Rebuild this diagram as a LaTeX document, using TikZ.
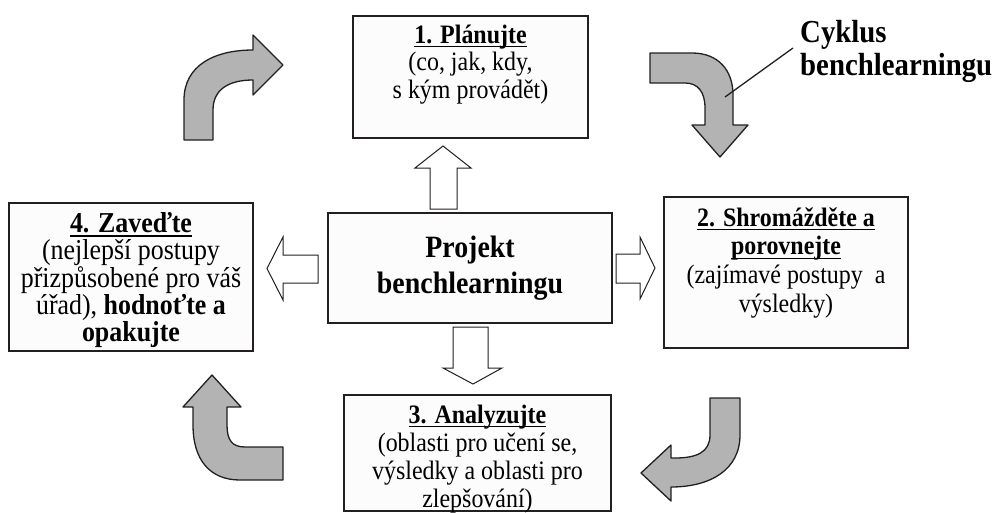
\documentclass[tikz,border=0pt]{standalone}
\usepackage{fontspec}
\setmainfont[FakeStretch=0.9]{Liberation Serif}
\definecolor{edge}{HTML}{231F20}
\definecolor{grayfill}{HTML}{B3B3B3}
\definecolor{boxfill}{HTML}{FCFCFC}
\newcommand{\myul}[1]{\setbox0\hbox{#1}\rlap{\rule[-4pt]{\wd0}{1.4pt}}\box0}
\newcommand{\topstrut}{\rule{0pt}{19.5pt}}
\begin{document}
\begin{tikzpicture}[x=1pt,y=-1pt,
  box/.style={draw=edge, line width=1.8pt, fill=boxfill, inner sep=0pt},
  boxtext/.style={font=\fontsize{26.6}{#1}\selectfont, align=center, inner sep=0pt, anchor=north},
  bigtext/.style={font=\fontsize{32}{33}\selectfont\bfseries, inner sep=0pt},
  garrow/.style={draw=edge, line width=1.3pt, fill=grayfill, line join=round},
  harrow/.style={draw=edge, line width=1pt, fill=white, line join=miter},
  leader/.style={draw=edge, line width=1.3pt}
]
\useasboundingbox (0,0) rectangle (998,512);

% ---- boxes ----
\node[box, minimum width=235pt, minimum height=122pt] (b1) at (470.5,77) {};
\node[box, minimum width=284pt, minimum height=110pt] (bc) at (470,268) {};
\node[box, minimum width=244pt, minimum height=148pt] (b4) at (131,277) {};
\node[box, minimum width=244pt, minimum height=151pt] (b2) at (786,272.5) {};
\node[box, minimum width=267pt, minimum height=116pt] (b3) at (477.5,453) {};

% ---- box texts ----
\node[boxtext=27.5] (t1) at (470.5,23.5) {\topstrut\myul{\textbf{1. Plánujte}}\\(co, jak, kdy,\\s kým provádět)};
\node[boxtext=28.7] (t2) at (786,206.5) {\topstrut\myul{\textbf{2. Shromážděte a}}\\\myul{\textbf{porovnejte}}\\(zajímavé postupy\ \ a\\výsledky)};
\node[boxtext=28] (t3) at (477.5,403.5) {\topstrut\myul{\textbf{3. Analyzujte}}\\(oblasti pro učení se,\\výsledky a oblasti pro\\zlepšování)};
\node[boxtext=27, font=\fontsize{28.8}{27}\selectfont] (t4) at (131,212.5) {\topstrut\myul{\textbf{4. Zaveďte}}\\(nejlepší postupy\\přizpůsobené pro váš\\úřad), \textbf{hodnoťte a}\\\textbf{opakujte}};
\node[bigtext, align=center, font=\fontsize{31}{36}\selectfont\bfseries] (tc) at (bc.center) {Projekt\\benchlearningu};
\node[bigtext, align=left, anchor=north west] (cyk) at (800,18) {\rule{0pt}{24pt}Cyklus\\benchlearningu};

% ---- hollow arrows ----
\draw[harrow] (430,209) -- (430,168) -- (415,168) -- (443,146) -- (471,168) -- (457,168) -- (457,209) -- cycle;
\draw[harrow] (318,255) -- (283,255) -- (283,237) -- (267,268.5) -- (283,300) -- (283,283) -- (318,283) -- cycle;
\draw[harrow] (616,254) -- (640,254) -- (640,237) -- (655,268) -- (640,299) -- (640,283) -- (616,283) -- cycle;
\draw[harrow] (453,327) -- (453,368) -- (443,368) -- (473,384) -- (502,368) -- (488,368) -- (488,327) -- cycle;

% ---- gray cycle arrows ----
% top-left, pointing right
\draw[garrow] (184,140) -- (184,100) .. controls (184,65) and (215,50) .. (253,50)
  -- (253,35) -- (283,65) -- (253,95) -- (253,80)
  .. controls (228,80) and (213,90) .. (213,110) -- (213,140) -- cycle;
% top-right, pointing down
\draw[garrow] (650,53) -- (692,53) .. controls (718,53) and (733,70) .. (733,95)
  -- (733,125) -- (748,125) -- (720,157) -- (692,125) -- (705,125) -- (705,108)
  .. controls (705,92) and (698,83) .. (685,83) -- (650,83) -- cycle;
% bottom-right, pointing left
\draw[garrow] (740,398) -- (740,435) .. controls (740,470) and (710,487) .. (671,487)
  -- (671,501) -- (641,473) -- (671,445) -- (671,458) -- (675,458)
  .. controls (697,458) and (710,452) .. (710,435) -- (710,398) -- cycle;
% bottom-left, pointing up
\draw[garrow] (283,480) -- (240,480) .. controls (210,480) and (193,460) .. (193,425)
  -- (193,407) -- (183,407) -- (212,375) -- (241,407) -- (227,407) -- (227,425)
  .. controls (227,440) and (232,447) .. (245,447) -- (283,447) -- cycle;

% ---- leader line ----
\coordinate (la) at (725,97);
\coordinate (lb) at (793,48);
\draw[leader] (la) -- (lb);
\end{tikzpicture}
\end{document}
